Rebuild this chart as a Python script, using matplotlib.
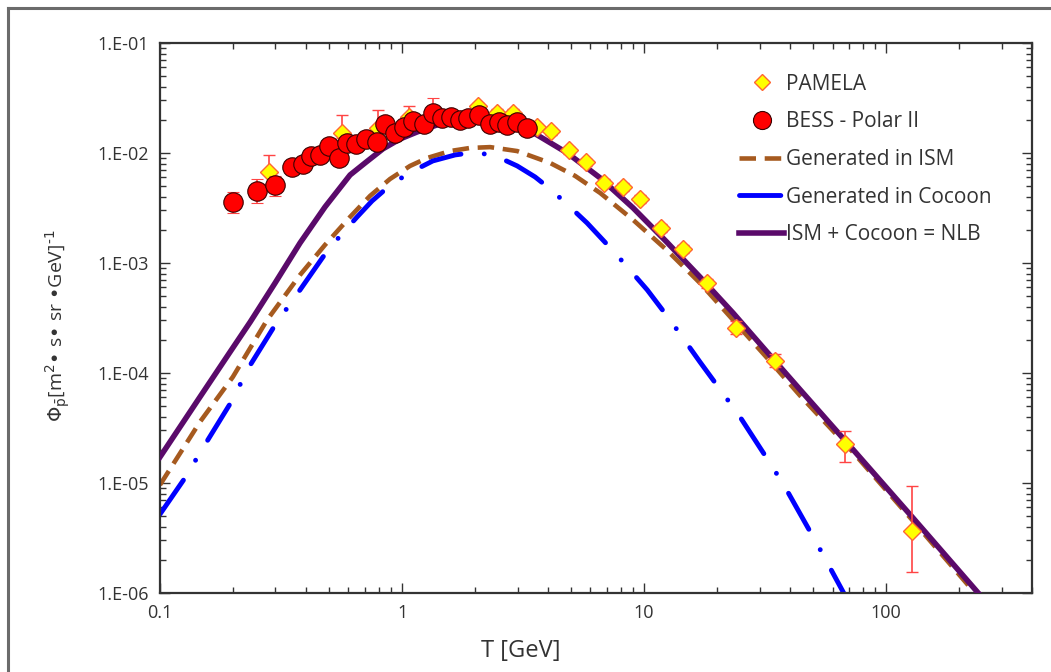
import numpy as np
import matplotlib.pyplot as plt
from matplotlib.ticker import LogLocator, FuncFormatter, NullFormatter
from matplotlib.lines import Line2D

plt.rcParams['font.family'] = ['Open Sans', 'DejaVu Sans']
plt.rcParams['mathtext.fontset'] = 'dejavusans'

# PAMELA antiproton flux
pam_T = [0.282, 0.565, 0.796, 1.07, 2.06, 2.47, 2.88, 3.61, 4.13, 4.90, 5.76,
         6.84, 8.19, 9.62, 11.7, 14.5, 18.2, 24.0, 34.8, 67.7, 128]
pam_flux = [6.72e-3, 1.52e-2, 1.69e-2, 2.12e-2, 2.67e-2, 2.31e-2, 2.31e-2, 1.72e-2,
            1.58e-2, 1.06e-2, 8.28e-3, 5.34e-3, 4.91e-3, 3.82e-3, 2.08e-3, 1.34e-3,
            6.58e-4, 2.57e-4, 1.29e-4, 2.26e-5, 3.66e-6]
pam_lo = [1.5e-3, 1.5e-3, 1.6e-3, 1.8e-3, 2.0e-3, 1.8e-3, 1.8e-3, 1.3e-3, 1.2e-3,
          0.8e-3, 0.6e-3, 0.4e-3, 0.4e-3, 0.3e-3, 0.17e-3, 0.11e-3, 0.06e-3,
          0.03e-3, 0.015e-3, 0.71e-5, 2.1e-6]
pam_hi = [2.8e-3, 6.9e-3, 7.7e-3, 5.5e-3, 2.0e-3, 1.8e-3, 1.8e-3, 1.3e-3, 1.2e-3,
          0.8e-3, 0.6e-3, 0.4e-3, 0.4e-3, 0.3e-3, 0.17e-3, 0.11e-3, 0.06e-3,
          0.04e-3, 0.02e-3, 0.71e-5, 5.7e-6]

# BESS - Polar II
bess_T = [0.200, 0.252, 0.299, 0.351, 0.390, 0.421, 0.458, 0.499, 0.549, 0.593,
          0.646, 0.710, 0.788, 0.851, 0.936, 1.02, 1.11, 1.23, 1.34, 1.46, 1.59,
          1.74, 1.87, 2.08, 2.31, 2.52, 2.71, 2.99, 3.29]
bess_flux = [3.59e-3, 4.52e-3, 5.12e-3, 7.46e-3, 7.94e-3, 9.39e-3, 9.59e-3, 1.16e-2,
             9.0e-3, 1.23e-2, 1.21e-2, 1.34e-2, 1.26e-2, 1.84e-2, 1.52e-2, 1.72e-2,
             1.95e-2, 1.84e-2, 2.31e-2, 2.08e-2, 2.12e-2, 2.0e-2, 2.08e-2, 2.21e-2,
             1.84e-2, 1.91e-2, 1.80e-2, 1.91e-2, 1.69e-2]
bess_lo = [0.74e-3, 1.0e-3, 1.1e-3, 0.8e-3, 0.8e-3, 0.9e-3, 0.9e-3, 1.1e-3, 0.9e-3,
           1.2e-3, 1.2e-3, 1.3e-3, 1.3e-3, 2.0e-3, 1.5e-3, 1.7e-3, 2.0e-3, 1.8e-3,
           2.5e-3, 2.1e-3, 2.1e-3, 2.0e-3, 2.1e-3, 2.2e-3, 1.8e-3, 1.9e-3, 1.8e-3,
           1.9e-3, 1.7e-3]
bess_hi = [0.83e-3, 1.3e-3, 1.1e-3, 0.8e-3, 0.8e-3, 0.9e-3, 0.9e-3, 1.1e-3, 0.9e-3,
           1.2e-3, 1.2e-3, 1.3e-3, 1.3e-3, 2.0e-3, 1.5e-3, 1.7e-3, 2.0e-3, 1.8e-3,
           8.5e-3, 2.1e-3, 2.1e-3, 2.0e-3, 2.1e-3, 2.2e-3, 1.8e-3, 1.9e-3, 1.8e-3,
           1.9e-3, 1.7e-3]

# model curves
ism_T = [0.1, 0.1463, 0.200, 0.277, 0.379, 0.4806, 0.610, 0.7377, 0.892, 1.079, 1.27,
         1.579, 1.91, 2.31, 2.99, 4.09, 5.19, 6.58, 9.01, 12.4, 17.0, 23.3, 32.2, 44.2,
         73.1, 129, 238, 296]
ism_flux = [9.6e-6, 3.59e-5, 9.2e-5, 3.03e-4, 7.78e-4, 1.46e-3, 2.62e-3, 4.07e-3,
            5.80e-3, 7.62e-3, 9.0e-3, 1.04e-2, 1.11e-2, 1.13e-2, 1.04e-2, 8.11e-3,
            6.18e-3, 4.33e-3, 2.46e-3, 1.31e-3, 6.58e-4, 3.03e-4, 1.37e-4, 6.18e-5,
            1.89e-5, 4.52e-6, 9.4e-7, 5.4e-7]

coc_T = [0.1, 0.1268, 0.153, 0.1947, 0.236, 0.299, 0.379, 0.471, 0.5544, 0.652, 0.7516,
         0.867, 1.05, 1.34, 1.656, 1.91, 2.203, 2.54, 2.99, 3.545, 4.09, 4.94, 5.81,
         7.59, 10.3, 12.8, 17.0, 22.0, 24.9, 34.1, 39.0, 52.4, 66.4, 74.5]
coc_flux = [5.2e-6, 1.11e-5, 2.21e-5, 5.23e-5, 1.18e-4, 2.73e-4, 5.69e-4, 1.13e-3,
            1.76e-3, 2.62e-3, 3.66e-3, 4.81e-3, 6.44e-3, 8.46e-3, 9.59e-3, 1.0e-2,
            9.79e-3, 9.0e-3, 7.62e-3, 6.05e-3, 4.71e-3, 3.23e-3, 2.31e-3, 1.23e-3,
            5.69e-4, 3.03e-4, 1.26e-4, 5.8e-5, 3.98e-5, 1.37e-5, 8.46e-6, 2.67e-6,
            1.02e-6, 6.3e-7]

nlb_T = [0.1, 0.1463, 0.1947, 0.236, 0.299, 0.379, 0.4806, 0.610, 0.7034, 0.834, 0.981,
         1.153, 1.436, 1.737, 2.101, 2.54, 3.073, 3.61, 4.81, 6.58, 9.01, 12.4, 17.0,
         23.3, 32.2, 44.2, 73.1, 129, 238, 296]
nlb_flux = [1.72e-5, 6.05e-5, 1.55e-4, 2.91e-4, 6.58e-4, 1.52e-3, 3.23e-3, 6.31e-3,
            8.11e-3, 1.09e-2, 1.34e-2, 1.55e-2, 1.84e-2, 2.04e-2, 2.12e-2, 2.04e-2,
            1.76e-2, 1.46e-2, 1.0e-2, 5.93e-3, 3.16e-3, 1.55e-3, 7.46e-4, 3.51e-4,
            1.55e-4, 7.0e-5, 2.0e-5, 4.81e-6, 1.02e-6, 5.8e-7]

fig = plt.figure(figsize=(10.51, 6.72), dpi=100)
ax = fig.add_axes([0.1522, 0.1176, 0.8297, 0.8185])

# outer frame of the original figure
fig.add_artist(Line2D([8/1051, 1], [1 - 8/672, 1 - 8/672], color='#6b6b6b', lw=2.2))
fig.add_artist(Line2D([8/1051, 8/1051], [0, 1 - 8/672], color='#6b6b6b', lw=2.2))

ism_line, = ax.plot(ism_T, ism_flux, color='#a65a1f', lw=3.3, dashes=(3.6, 1.9), zorder=2)
coc_line, = ax.plot(coc_T, coc_flux, color='#0000ff', lw=3.5, dashes=(8.5, 4.8, 0.01, 4.8),
                    dash_capstyle='round', zorder=2)
nlb_line, = ax.plot(nlb_T, nlb_flux, color='#5a0a6a', lw=4, zorder=3)

ax.errorbar(pam_T, pam_flux, yerr=[pam_lo, pam_hi], fmt='D', ms=9.5,
            mfc='#ffff00', mec='#ff6633', mew=1, ecolor='#ff4444', elinewidth=1.2,
            capsize=4, zorder=4)
ax.errorbar(bess_T, bess_flux, yerr=[bess_lo, bess_hi], fmt='o', ms=14,
            mfc='#ff0000', mec='#3a0000', mew=0.8, ecolor='#ff4444', elinewidth=1.2,
            capsize=4, zorder=5)

ax.set_xscale('log')
ax.set_yscale('log')
ax.set_xlim(0.1, 400)
ax.set_ylim(1e-6, 1e-1)

ax.xaxis.set_major_locator(LogLocator(base=10))
ax.xaxis.set_minor_locator(LogLocator(base=10, subs=np.arange(2, 10)))
ax.xaxis.set_minor_formatter(NullFormatter())
ax.xaxis.set_major_formatter(FuncFormatter(lambda v, _: '%g' % v))
ax.yaxis.set_major_locator(LogLocator(base=10))
ax.yaxis.set_minor_locator(LogLocator(base=10, subs=np.arange(2, 10)))
ax.yaxis.set_minor_formatter(NullFormatter())
ax.yaxis.set_major_formatter(FuncFormatter(lambda v, _: '1.E-%02d' % round(-np.log10(v))))

ax.tick_params(which='both', direction='in', top=True, right=True, colors='#333333',
               labelsize=13, labelcolor='#333333')
ax.tick_params(which='major', length=7, width=1, pad=8)
ax.tick_params(which='minor', length=4, width=1)
for s in ax.spines.values():
    s.set_linewidth(1.6)
    s.set_color('#333333')

ax.set_xlabel('T [GeV]', fontsize=17, color='#333333')
ax.xaxis.set_label_coords((521 - 160) / 872, -0.084)
ax.set_ylabel(r'$\Phi_{\bar{\mathrm{p}}}$[m$^{2}$• s• sr •GeV]$^{\text{-1}}$', fontsize=14,
              color='#333333')
ax.yaxis.set_label_coords(-0.101, 0.485)

handles = [
    Line2D([], [], ls='none', marker='D', ms=8, mfc='#ffff00', mec='#ff6633', mew=1),
    Line2D([], [], ls='none', marker='o', ms=13, mfc='#ff0000', mec='#3a0000', mew=0.8),
    ism_line, coc_line, nlb_line,
]
labels = ['PAMELA', 'BESS - Polar II', 'Generated in ISM', 'Generated in Cocoon',
          'ISM + Cocoon = NLB']
ax.legend(handles, labels, loc='upper left', bbox_to_anchor=(0.643, 0.978),
          frameon=False, fontsize=15, handlelength=2.15, handletextpad=0.1,
          labelspacing=0.8, labelcolor='#333333')

fig.savefig('out.png', dpi=100)
